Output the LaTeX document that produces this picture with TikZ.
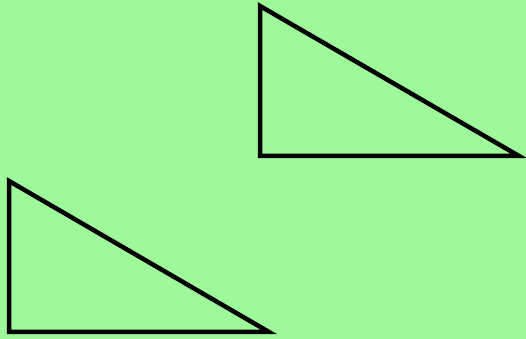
\documentclass[tikz,border=0pt]{standalone}
\usepackage{tikz}

\definecolor{bggreen}{RGB}{158,249,154}

\begin{document}
\begin{tikzpicture}[
    x=1pt, y=1pt,
    tri/.style={draw=black, line width=4.5pt, line join=miter}
  ]
  % background
  \fill[bggreen] (0,0) rectangle (526,339);
  \useasboundingbox (0,0) rectangle (526,339);
  % upper triangle
  \draw[tri] (260,333) -- (260,183) -- (519,183) -- cycle;
  % lower triangle
  \draw[tri] (9,158) -- (9,7) -- (269,7) -- cycle;
\end{tikzpicture}
\end{document}
